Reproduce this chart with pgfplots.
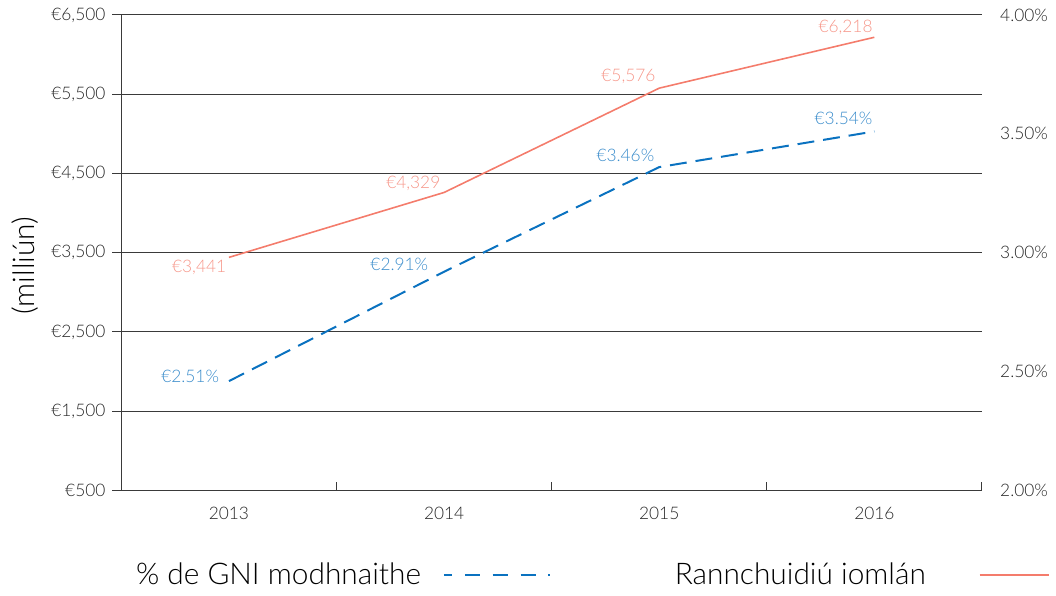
\documentclass[border=0pt]{standalone}
\usepackage{fontspec}
\setmainfont{Lato Light}
\usepackage{pgfplots}
\pgfplotsset{compat=1.18}

\definecolor{lineorange}{HTML}{F47C6C}
\definecolor{textorange}{HTML}{F6978A}
\definecolor{lineblue}{HTML}{0A72C0}
\definecolor{textblue}{HTML}{3A8CCB}
\definecolor{gridgray}{HTML}{3A3A3A}

\pgfplotsset{
  base/.style={
    scale only axis, width=432.5pt, height=239pt,
    xmin=-0.5, xmax=3.5, clip=false,
    ticklabel style={font=\fontsize{8.7}{10}\selectfont, text=black!85},
  },
  blueleg/.style={legend image code/.code={%
    \draw[##1, dash pattern=on 7.5pt off 6.5pt, dash phase=3.5pt] (0pt,0pt) -- (53.5pt,0pt);}},
  orangeleg/.style={legend image code/.code={%
    \path[draw=none] (0pt,0pt) -- (16pt,0pt);
    \draw[##1] (16pt,0pt) -- (51pt,0pt);}},
}

\begin{document}
\begin{tikzpicture}
\begin{axis}[
    base, name=ax,
    ymin=500, ymax=6500,
    axis x line*=bottom, axis y line*=left,
    axis line style={gridgray, line width=0.5pt, -},
    xtick={0,1,2,3}, xticklabels={2013,2014,2015,2016},
    major x tick style={draw=none},
    minor xtick={-0.5,0.5,1.5,2.5,3.5},
    minor x tick style={gridgray, line width=0.5pt, yshift=4.5pt},
    ytick={500,1500,2500,3500,4500,5500,6500},
    yticklabels={{€500},{€1,500},{€2,500},{€3,500},{€4,500},{€5,500},{€6,500}},
    ymajorgrids, grid style={gridgray, line width=0.5pt},
    tick align=outside, major tick length=4.5pt, minor tick length=4.5pt,
    major y tick style={gridgray, line width=0.5pt},
    xticklabel style={yshift=-0.5pt},
    ylabel={(milliún)},
    ylabel style={font=\fontsize{15}{17}\selectfont, at={(axis description cs:-0.112,0.473)}, anchor=center},
    legend style={draw=none, fill=none, at={(axis description cs:0.005,-0.178)}, anchor=west,
      font=\fontsize{15}{17}\selectfont,
      /tikz/every odd column/.append style={column sep=9pt},
      /tikz/every even column/.append style={column sep=60pt}},
    legend columns=2, legend plot pos=right, legend cell align=left,
  ]
  \addlegendimage{lineblue, line width=1pt, blueleg}
  \addlegendentry{\% de GNI modhnaithe}
  \addplot[lineorange, line width=0.8pt, orangeleg,
    point meta=explicit symbolic,
    nodes near coords,
    every node near coord/.append style={anchor=east, text=textorange, inner sep=0pt,
      font=\fontsize{8.7}{10}\selectfont},
    coordinate style/.condition={x==0}{xshift=-1pt, yshift=-5pt},
    coordinate style/.condition={x==1}{xshift=-1.5pt, yshift=4.5pt},
    coordinate style/.condition={x==2}{xshift=-1.5pt, yshift=6pt},
    coordinate style/.condition={x==3}{xshift=-0.5pt, yshift=5pt},
  ] coordinates {
    (0,3441) [{€3,441}]
    (1,4260) [{€4,329}]
    (2,5576) [{€5,576}]
    (3,6218) [{€6,218}]
  };
  \addlegendentry{Rannchuidiú iomlán}
\end{axis}

\begin{axis}[
    base,
    ymin=2, ymax=4,
    hide x axis,
    axis y line*=right,
    y axis line style={draw=none},
    major y tick style={draw=none},
    ytick={2,2.5,3,3.5,4},
    yticklabels={2.00\%,2.50\%,3.00\%,3.50\%,4.00\%},
    yticklabel style={anchor=west, inner xsep=0pt, xshift=9pt},
  ]
  \addplot[lineblue, line width=1pt, dash pattern=on 8.5pt off 4.5pt,
    point meta=explicit symbolic,
    nodes near coords,
    every node near coord/.append style={anchor=east, text=textblue, inner sep=0pt,
      font=\fontsize{8.7}{10}\selectfont, solid},
    coordinate style/.condition={x==0}{xshift=-4.5pt, yshift=2.5pt},
    coordinate style/.condition={x==1}{xshift=-7.5pt, yshift=3.5pt},
    coordinate style/.condition={x==2}{xshift=-2pt, yshift=6pt},
    coordinate style/.condition={x==3}{xshift=-0.5pt, yshift=6.5pt},
  ] coordinates {
    (0,2.46) [{€2.51\%}]
    (1,2.92) [{€2.91\%}]
    (2,3.36) [{€3.46\%}]
    (3,3.51) [{€3.54\%}]
  };
\end{axis}

\path ([shift={(-61pt,-48.5pt)}]ax.south west) rectangle ([shift={(34.5pt,7.5pt)}]ax.north east);
\end{tikzpicture}
\end{document}
